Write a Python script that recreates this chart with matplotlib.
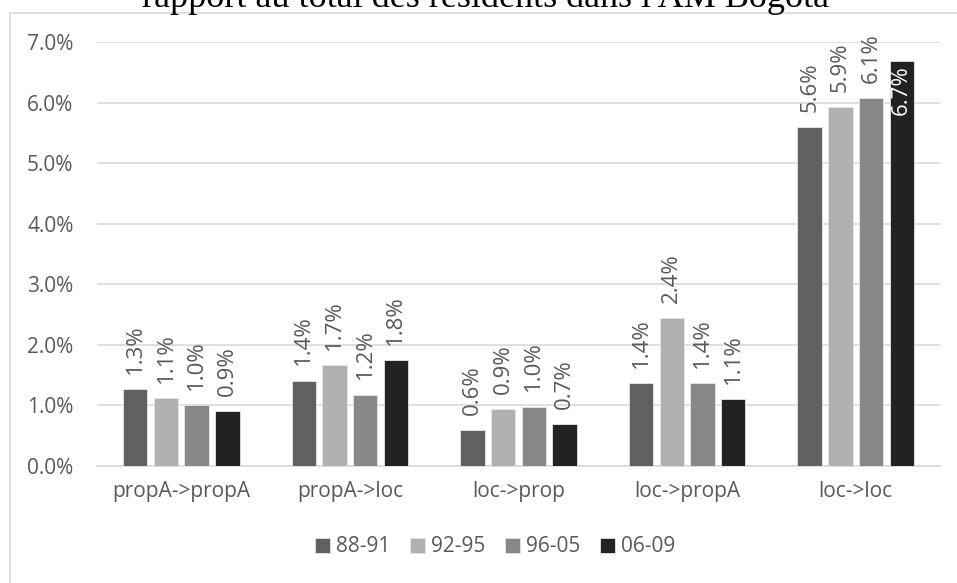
import numpy as np
import matplotlib
matplotlib.use('Agg')
import matplotlib.pyplot as plt
from matplotlib.patches import Rectangle

categories = ['propA->propA', 'propA->loc', 'loc->prop', 'loc->propA', 'loc->loc']
periods = ['88-91', '92-95', '96-05', '06-09']
v_88_91 = [1.27, 1.41, 0.59, 1.37, 5.60]
v_92_95 = [1.12, 1.66, 0.94, 2.44, 5.93]
v_96_05 = [1.00, 1.18, 0.98, 1.37, 6.07]
v_06_09 = [0.91, 1.75, 0.69, 1.10, 6.69]
series = [v_88_91, v_92_95, v_96_05, v_06_09]
colors = ['#606060', '#b0b0b0', '#888888', '#222222']

plt.rcParams['font.family'] = ['Open Sans', 'DejaVu Sans']
txt = '#595959'

fig = plt.figure(figsize=(9.57, 5.83), dpi=100)
ax = fig.add_axes([97/957, 1-466/583, (940-97)/957, (466-42)/583])

# chart border (cropped on right/bottom)
fig.patches.append(Rectangle((10/957, -0.05), 1.2, 1-13/583+0.05, transform=fig.transFigure,
                             fill=False, edgecolor='#d9d9d9', lw=1.2, zorder=0))

x = np.arange(len(categories))
step = 0.182
width = 0.145
for i, (vals, c, lab) in enumerate(zip(series, colors, periods)):
    xs = x + (i - 1.5) * step
    ax.bar(xs, vals, width=width, color=c, edgecolor='#e6e6e6', linewidth=0.6, label=lab, zorder=3)
    for xi, v in zip(xs, vals):
        s = '{:.1f}%'.format(v)
        if v > 6.5:
            ax.annotate(s, (xi, v), xytext=(0, -3), textcoords='offset points', rotation=90,
                        ha='center', va='top', color='white', fontsize=16)
        else:
            ax.annotate(s, (xi, v), xytext=(0, 11), textcoords='offset points', rotation=90,
                        ha='center', va='bottom', color=txt, fontsize=16)

ax.set_ylim(0, 7)
ax.set_xlim(-0.5, 4.5)
ax.set_yticks(np.arange(0, 8, 1))
ax.set_yticklabels(['{:.1f}%'.format(t) for t in range(8)])
ax.set_xticks(x)
ax.set_xticklabels(categories)
ax.tick_params(length=0, labelsize=15, labelcolor=txt)
ax.tick_params(axis='x', pad=11)
ax.tick_params(axis='y', pad=17)
ax.grid(axis='y', color='#d9d9d9', lw=1.2, zorder=0)
for sp in ['top', 'right', 'left']:
    ax.spines[sp].set_visible(False)
ax.spines['bottom'].set_color('#d9d9d9')
ax.spines['bottom'].set_linewidth(1.2)

fig.legend(loc='center', bbox_to_anchor=(495/957, 1-547/583), ncol=4, frameon=False,
           fontsize=15, labelcolor=txt, handlelength=0.7, handleheight=0.7,
           handletextpad=0.3, columnspacing=0.95)

fig.text(486/957, 1-7/583, "rapport au total des résidents dans l'AM Bogota", ha='center',
         va='baseline', fontsize=26, family='Liberation Serif', color='black')

fig.savefig('out.png', dpi=100)
